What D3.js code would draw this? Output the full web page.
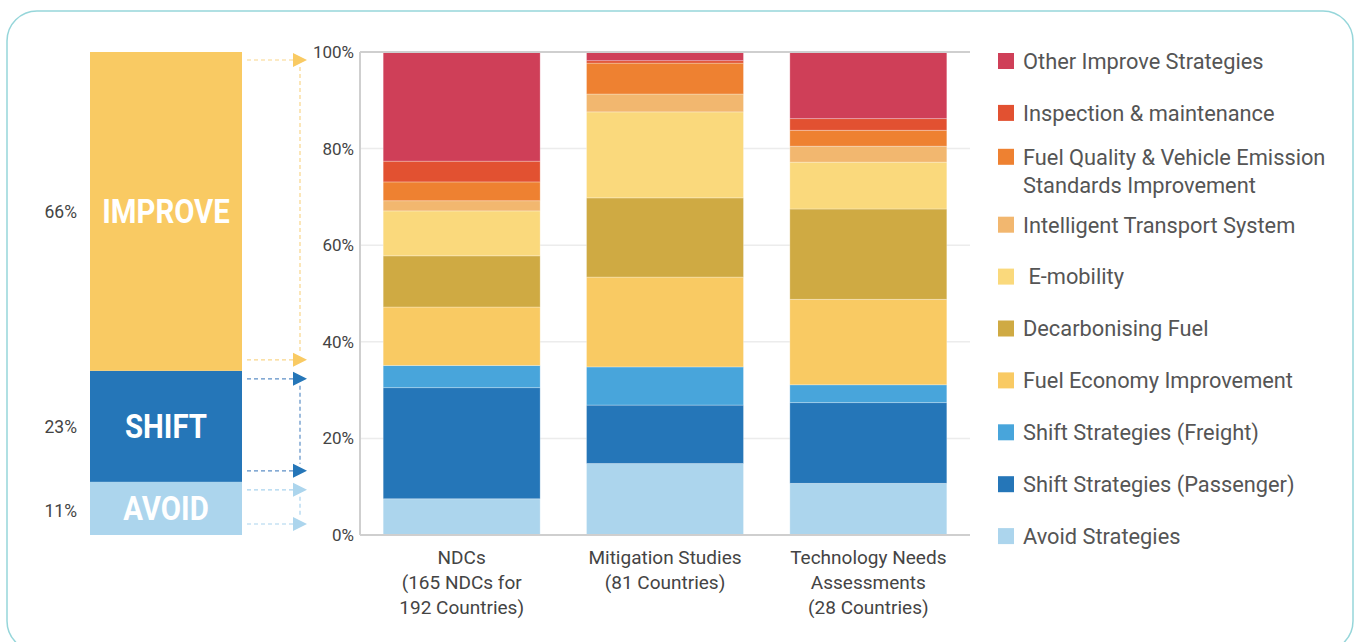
<!DOCTYPE html>
<html>
<head>
<meta charset="utf-8">
<script src="https://cdn.jsdelivr.net/npm/d3@7"></script>
<style>
  html, body { margin: 0; padding: 0; background: #fff; }
  svg { display: block; font-family: Roboto, "Liberation Sans", sans-serif; }
</style>
</head>
<body>
<svg id="chart" width="1356" height="642"></svg>
<script>
// ---------------- DATA ----------------
const categoryLabels = [
  ["NDCs", "(165 NDCs for", "192 Countries)"],
  ["Mitigation Studies", "(81 Countries)"],
  ["Technology Needs", "Assessments", "(28 Countries)"]
];
const categories = ["NDCs", "Mitigation", "TNA"];

// series, stacked bottom -> top (percent of measures)
const seriesNames = [
  "Avoid Strategies",
  "Shift Strategies (Passenger)",
  "Shift Strategies (Freight)",
  "Fuel Economy Improvement",
  "Decarbonising Fuel",
  " E-mobility",
  "Intelligent Transport System",
  "Fuel Quality & Vehicle Emission Standards Improvement",
  "Inspection & maintenance",
  "Other Improve Strategies"
];
const avoidStrategies      = [7.5, 14.8, 10.7];
const shiftPassenger       = [23.0, 12.1, 16.7];
const shiftFreight         = [4.6, 7.9, 3.7];
const fuelEconomy          = [12.1, 18.6, 17.7];
const decarbonisingFuel    = [10.6, 16.4, 18.7];
const eMobility            = [9.3, 17.8, 9.7];
const intelligentTransport = [2.1, 3.7, 3.3];
const fuelQuality          = [3.9, 6.4, 3.3];
const inspection           = [4.3, 0.5, 2.4];
const otherImprove         = [22.6, 1.8, 13.8];
const seriesValues = [avoidStrategies, shiftPassenger, shiftFreight, fuelEconomy,
  decarbonisingFuel, eMobility, intelligentTransport, fuelQuality, inspection, otherImprove];
const seriesColors = ["#acd5ed", "#2576b8", "#48a5db", "#f9ca63", "#cfaa43",
  "#fad97c", "#f2b76f", "#ee8131", "#e25131", "#cf3f58"];

// legend (top -> bottom), multi-line labels
const legendLabels = [
  ["Other Improve Strategies"],
  ["Inspection & maintenance"],
  ["Fuel Quality & Vehicle Emission", "Standards Improvement"],
  ["Intelligent Transport System"],
  [" E-mobility"],
  ["Decarbonising Fuel"],
  ["Fuel Economy Improvement"],
  ["Shift Strategies (Freight)"],
  ["Shift Strategies (Passenger)"],
  ["Avoid Strategies"]
];

// summary bar (bottom -> top)
const summaryLabels = ["AVOID", "SHIFT", "IMPROVE"];
const summaryValues = [11, 23, 66];
const summaryColors = ["#acd5ed", "#2576b8", "#f9ca63"];
const arrowLineColors = ["#a9d3ee", "#5d8fc6", "#f9d68a"];

const yTicks = [0, 20, 40, 60, 80, 100];

// ---------------- LAYOUT ----------------
const svg = d3.select("#chart");
const textColor = "#444";

// outer rounded frame
svg.append("rect")
  .attr("x", 7).attr("y", 11).attr("width", 1346).attr("height", 640)
  .attr("rx", 30).attr("ry", 30)
  .attr("fill", "none").attr("stroke", "#96d6da").attr("stroke-width", 1.5);

const plot = { left: 360, right: 970, top: 52, bottom: 535 };

const y = d3.scaleLinear().domain([0, 100]).range([plot.bottom, plot.top]);
const x = d3.scaleBand().domain(categories).range([plot.left, plot.right])
  .paddingInner(0.228).paddingOuter(0.114);

// gridlines
svg.append("g").selectAll("line")
  .data(yTicks.filter(t => t > 0 && t < 100))
  .join("line")
  .attr("x1", plot.left).attr("x2", plot.right)
  .attr("y1", d => y(d)).attr("y2", d => y(d))
  .attr("stroke", "#ececec").attr("stroke-width", 1.5);

// stacked data
const rows = categories.map((c, i) => {
  const r = { cat: c };
  seriesNames.forEach((s, k) => r[s] = seriesValues[k][i]);
  return r;
});
const stack = d3.stack().keys(seriesNames)(rows);

svg.append("g").selectAll("g")
  .data(stack)
  .join("g")
  .attr("fill", (d, k) => seriesColors[k])
  .selectAll("rect")
  .data(d => d)
  .join("rect")
  .attr("x", d => x(d.data.cat))
  .attr("width", x.bandwidth())
  .attr("y", d => y(d[1]))
  .attr("height", d => Math.max(0, y(d[0]) - y(d[1])))
  .attr("stroke", "rgba(255,255,255,0.35)")
  .attr("stroke-width", 0.8);

// frame lines (left, top, bottom)
const frame = svg.append("g").attr("stroke", "#cfcfcf").attr("stroke-width", 2);
frame.append("line").attr("x1", plot.left).attr("x2", plot.left).attr("y1", plot.top).attr("y2", plot.bottom);
frame.append("line").attr("x1", plot.left).attr("x2", plot.right).attr("y1", plot.top).attr("y2", plot.top);
frame.append("line").attr("x1", plot.left).attr("x2", plot.right).attr("y1", plot.bottom).attr("y2", plot.bottom);

// y axis
const yAxis = d3.axisLeft(y).tickValues(yTicks).tickFormat(d => d + "%").tickSize(0).tickPadding(6);
const yg = svg.append("g").attr("transform", `translate(${plot.left},0)`).call(yAxis);
yg.select(".domain").remove();
yg.selectAll("text").attr("fill", textColor).style("font-size", "17px")
  .style("font-family", "Roboto, sans-serif");

// x labels
const xl = svg.append("g");
categories.forEach((c, i) => {
  const cx = x(c) + x.bandwidth() / 2;
  const t = xl.append("text")
    .attr("x", cx)
    .attr("y", 564)
    .attr("text-anchor", "middle")
    .attr("fill", textColor)
    .style("font-size", "19px");
  categoryLabels[i].forEach((line, j) => {
    t.append("tspan").attr("x", cx).attr("dy", j === 0 ? 0 : 25).text(line);
  });
});

// legend
const legend = svg.append("g");
const legendColors = seriesColors.slice().reverse();
legendLabels.forEach((lines, i) => {
  const cy = 61 + i * 51.9 + (i === 2 ? -8 : (i > 2 ? 8 : 0));
  legend.append("rect").attr("x", 998).attr("y", cy - 8).attr("width", 16).attr("height", 16)
    .attr("fill", legendColors[i]);
  const t = legend.append("text").attr("x", 1023).attr("y", cy)
    .attr("fill", "#555").style("font-size", "21.8px").style("white-space", "pre");
  lines.forEach((line, j) => {
    t.append("tspan").attr("x", 1023).attr("dy", j === 0 ? "0.36em" : 28).text(line);
  });
});

// summary bar (uses same y scale)
const summaryStack = d3.stack().keys(summaryLabels)([Object.fromEntries(summaryLabels.map((k, i) => [k, summaryValues[i]]))]);
const sb = { x0: 90, x1: 242 };
const sg = svg.append("g");
summaryStack.forEach((s, k) => {
  const d = s[0];
  const top = y(d[1]), bot = y(d[0]);
  sg.append("rect").attr("x", sb.x0).attr("width", sb.x1 - sb.x0)
    .attr("y", top).attr("height", bot - top).attr("fill", summaryColors[k]);
  const mid = (top + bot) / 2;
  const cx = (sb.x0 + sb.x1) / 2;
  sg.append("text").attr("transform", `translate(${cx},${mid}) scale(0.89,1)`).attr("dy", "0.36em")
    .attr("text-anchor", "middle").attr("fill", "#fff")
    .style("font-size", "33px").style("font-weight", "bold").text(summaryLabels[k]);
  sg.append("text").attr("x", 77).attr("y", k === 0 ? mid + 2 : mid).attr("dy", "0.36em")
    .attr("text-anchor", "end").attr("fill", textColor)
    .style("font-size", "17.5px").text(summaryValues[k] + "%");

  // arrows
  const aTop = top + 8, aBot = bot - 11;
  const ax0 = 247, ax1 = 293, tipX = 307, vx = 300;
  [aTop, aBot].forEach(ay => {
    sg.append("line").attr("x1", ax0).attr("x2", ax1).attr("y1", ay).attr("y2", ay)
      .attr("stroke", arrowLineColors[k]).attr("stroke-width", 1.2).attr("stroke-dasharray", "4,3");
    sg.append("path").attr("d", `M${ax1},${ay - 7}L${tipX},${ay}L${ax1},${ay + 7}Z`)
      .attr("fill", summaryColors[k]);
  });
  sg.append("line").attr("x1", vx).attr("x2", vx).attr("y1", aTop + 7).attr("y2", aBot - 7)
    .attr("stroke", arrowLineColors[k]).attr("stroke-width", 1.2).attr("stroke-dasharray", "4,3");
});
</script>
</body>
</html>
